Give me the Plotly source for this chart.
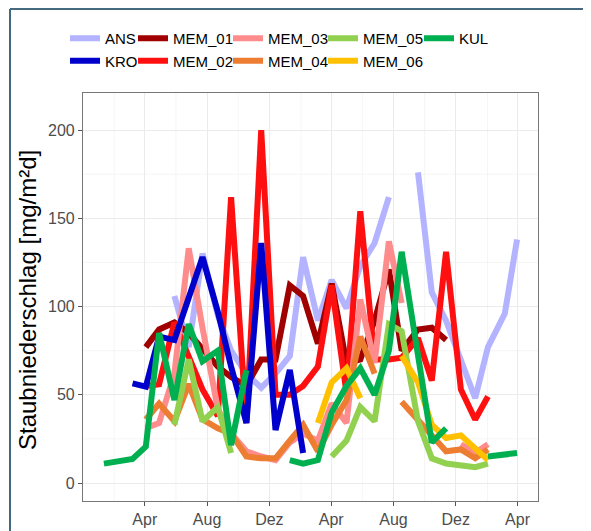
import plotly.graph_objects as go

N = None
dates = ["2016-01-12", "2016-03-08", "2016-04-03", "2016-04-29", "2016-05-29", "2016-06-26",
         "2016-07-23", "2016-08-22", "2016-09-17", "2016-10-17", "2016-11-15", "2016-12-13",
         "2017-01-10", "2017-02-05", "2017-03-06", "2017-04-02", "2017-05-01", "2017-05-28",
         "2017-06-25", "2017-07-23", "2017-08-17", "2017-09-18", "2017-10-15", "2017-11-12",
         "2017-12-11", "2018-01-08", "2018-02-02", "2018-03-07", "2018-03-31"]

ANS = [N, N, N, N, 106, 77, 130, 95, 75, 62, 54, 62, 72, 128, 92, 115, 99, 123, 136, 162,
       N, 176, 108, 92, 70, 48, 77, 96, 138]
KRO = [N, 56.5, 54.6, 83, 81, 105, 128, 97, 66, 34, 136, 30, 64, 17, N, N, N, N, N, N,
       N, N, N, N, N, N, N, N, N]
MEM_01 = [N, N, 77, 87, 91, 85, 76, 66, 60, 55, 70, 70, 112, 106, 79, 113, 68, 70, 92, 121,
          75, 87, 88, 81, N, N, N, N, N]
MEM_02 = [N, N, 55, 56, 91, 71, 53, 38, 162, 34, 200, 50, 50, 55, 66, 112, 51, 154, 70, 70,
          71, 82, 58, 131, 53, 36, 49, N, N]
MEM_03 = [N, N, 31, 34, 62, 133, 88, 42, 28, 18, 15, 13, 23, 28, 24, 45, 34, 104, 68, 137,
          102, N, N, N, 22, 17, 22, N, N]
MEM_04 = [N, N, 36, 45, 35, 56, 36, 31, 28, 15, 14, 14, 24, 33, 18, 33, 47, 83, 62, N,
          46, 36, 28, 18, 19, 14, 19, N, N]
MEM_05 = [N, N, N, N, 33, 70, 35, 43, 17, N, N, N, N, N, N, 15, 24, 43, 35, 90,
          86, 35, 14, 11, 10, 9, 11, N, N]
MEM_06 = [N, N, N, N, N, N, N, N, N, N, N, N, N, N, 34, 57, 65, 48, N, N,
          72, 57, 33, 25.5, 27, 20, 13, N, N]
KUL = [11, 13.6, 20.6, 85, 47, 90, 69, 75, 21.5, 64, N, N, 13, 11, 13, 40, 55, 65, 50, 75,
       131, 72, 23, 31, N, N, 15, 16, 17]

x_tick_vals = ["2016-04-01", "2016-08-01", "2016-12-01", "2017-04-01", "2017-08-01",
               "2017-12-01", "2018-04-01"]
x_tick_text = ["Apr", "Aug", "Dez", "Apr", "Aug", "Dez", "Apr"]
x_minor_vals = ["2016-02-01", "2016-06-01", "2016-10-01", "2017-02-01", "2017-06-01",
                "2017-10-01", "2018-02-01"]
y_tick_vals = [0, 50, 100, 150, 200]
y_minor_vals = [25, 75, 125, 175]
y_title = "Staubniederschlag [mg/m²d]"

# (name, values, colour, legend column) in drawing order
series = [
    ("ANS", ANS, "#B3B3FF", "legend"),
    ("MEM_01", MEM_01, "#A00000", "legend2"),
    ("MEM_02", MEM_02, "#FF1010", "legend2"),
    ("MEM_03", MEM_03, "#FF8C8C", "legend3"),
    ("MEM_04", MEM_04, "#ED7D31", "legend3"),
    ("MEM_05", MEM_05, "#92D050", "legend4"),
    ("MEM_06", MEM_06, "#FFC000", "legend4"),
    ("KRO", KRO, "#0000CD", "legend"),
    ("KUL", KUL, "#00B050", "legend5"),
]
rank = {"ANS": 1, "KRO": 2, "MEM_01": 1, "MEM_02": 2, "MEM_03": 1, "MEM_04": 2,
        "MEM_05": 1, "MEM_06": 2, "KUL": 1}

FONT = "Liberation Sans, Arial, sans-serif"
fig = go.Figure()
for name, vals, col, leg in series:
    fig.add_trace(go.Scatter(x=dates, y=vals, mode="lines", name=name,
                             line=dict(color=col, width=6),
                             connectgaps=False, legend=leg, legendrank=rank[name]))

# page body has an 8px margin: figure is drawn 8px in from the window edge
OFF = 8
W, H = 591 - OFF, 531 - OFF
legend_common = dict(orientation="v", xref="container", yref="container",
                     xanchor="left", yanchor="top", bgcolor="rgba(0,0,0,0)",
                     font=dict(family=FONT, size=15, color="#000"),
                     itemwidth=30, tracegroupgap=0, traceorder="normal")
legend_text_x = [105, 173, 268, 363, 459]
legs = {}
for i, tx in enumerate(legend_text_x):
    key = "legend" if i == 0 else f"legend{i+1}"
    legs[key] = dict(legend_common, x=(tx - 48) / W, y=1 - 14 / H)

L, R, T, B = 83 - OFF, 538 - OFF, 93 - OFF, 501 - OFF
def px(xp): return (xp - OFF - L) / (R - L)
def py(yp): return (B - (yp - OFF)) / (B - T)

grid_shapes = []
for xv in x_minor_vals:
    grid_shapes.append(dict(type="line", xref="x", yref="paper", x0=xv, x1=xv, y0=0, y1=1,
                            layer="below", line=dict(color="#F2F2F2", width=0.8)))
for yv in y_minor_vals:
    grid_shapes.append(dict(type="line", xref="paper", yref="y", x0=0, x1=1, y0=yv, y1=yv,
                            layer="below", line=dict(color="#F2F2F2", width=0.8)))

frame = [
    dict(type="line", xref="paper", yref="paper", x0=px(10), x1=px(600), y0=py(9), y1=py(9),
         line=dict(color="#45697F", width=2)),
    dict(type="line", xref="paper", yref="paper", x0=px(10), x1=px(10), y0=py(9), y1=py(540),
         line=dict(color="#45697F", width=2)),
]

fig.update_layout(
    width=W, height=H,
    margin=dict(l=L, r=W - R, t=T, b=H - B, autoexpand=False),
    paper_bgcolor="white", plot_bgcolor="white",
    font=dict(family=FONT),
    showlegend=True,
    **legs,
    xaxis=dict(type="date", range=["2015-12-02", "2018-05-11"],
               tickmode="array", tickvals=x_tick_vals, ticktext=x_tick_text,
               tickfont=dict(size=16, color="#4D4D4D", family=FONT),
               ticks="outside", ticklen=4, tickcolor="#555", tickwidth=1,
               showgrid=True, gridcolor="#EBEBEB", gridwidth=1.1,
               showline=True, linecolor="#777", linewidth=1.1, mirror=True,
               zeroline=False),
    yaxis=dict(range=[-10.2, 221], tickmode="array", tickvals=y_tick_vals,
               tickfont=dict(size=16, color="#4D4D4D", family=FONT),
               ticks="outside", ticklen=4, tickcolor="#555", tickwidth=1,
               showgrid=True, gridcolor="#EBEBEB", gridwidth=1.1,
               showline=True, linecolor="#777", linewidth=1.1, mirror=True,
               zeroline=False),
    shapes=grid_shapes + frame,
    annotations=[dict(text=y_title, xref="paper", yref="paper", x=px(27), y=py(300),
                      xanchor="center", yanchor="middle", textangle=-90, showarrow=False,
                      font=dict(size=24, color="#000", family=FONT))],
)

fig.write_html("out.html")
